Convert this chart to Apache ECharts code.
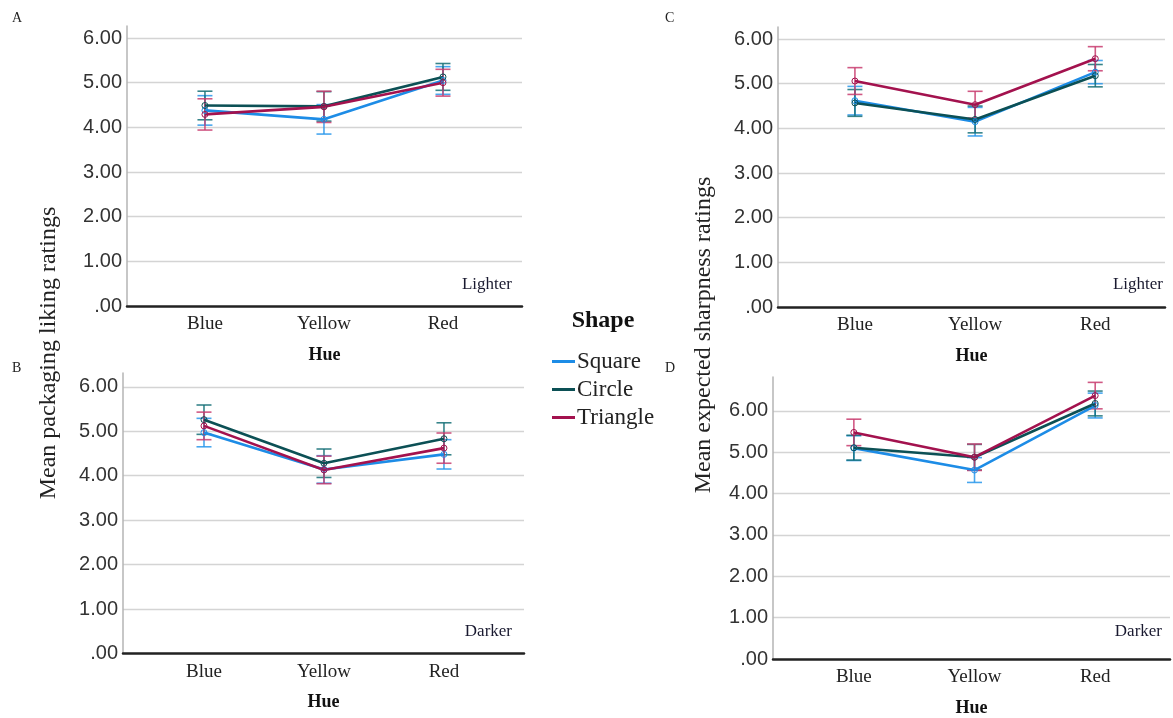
<!DOCTYPE html>
<html><head><meta charset="utf-8">
<script src="https://cdn.jsdelivr.net/npm/echarts@6/dist/echarts.min.js"></script>
<style>html,body{margin:0;padding:0;background:#fff}#c{width:1173px;height:718px}</style>
</head><body><div id="c"></div>
<script>
// ---- data ----
const hues = ['Blue', 'Yellow', 'Red'];
const shapes = ['Square', 'Circle', 'Triangle'];
const yTicks = [0, 1, 2, 3, 4, 5, 6];

// Panel A: Lighter, packaging liking
const aSquare = [4.38, 4.18, 5.05];   const aSquareErr = [0.33, 0.33, 0.31];
const aCircle = [4.49, 4.47, 5.13];   const aCircleErr = [0.32, 0.33, 0.30];
const aTriangle = [4.29, 4.46, 5.00]; const aTriangleErr = [0.35, 0.35, 0.30];
// Panel B: Darker, packaging liking
const bSquare = [4.97, 4.14, 4.48];   const bSquareErr = [0.32, 0.31, 0.33];
const bCircle = [5.26, 4.28, 4.83];   const bCircleErr = [0.33, 0.32, 0.36];
const bTriangle = [5.12, 4.13, 4.62]; const bTriangleErr = [0.31, 0.31, 0.34];
// Panel C: Lighter, expected sharpness
const cSquare = [4.62, 4.15, 5.26];   const cSquareErr = [0.32, 0.32, 0.26];
const cCircle = [4.57, 4.20, 5.18];   const cCircleErr = [0.30, 0.30, 0.25];
const cTriangle = [5.06, 4.53, 5.56]; const cTriangleErr = [0.30, 0.30, 0.27];
// Panel D: Darker, expected sharpness
const dSquare = [5.10, 4.57, 6.13];   const dSquareErr = [0.30, 0.30, 0.30];
const dCircle = [5.11, 4.88, 6.18];   const dCircleErr = [0.30, 0.31, 0.30];
const dTriangle = [5.48, 4.88, 6.37]; const dTriangleErr = [0.32, 0.32, 0.32];

// ---- layout / style ----
const colors = {Square: '#1d8ce6', Circle: '#0c5055', Triangle: '#a3124e'};
const barColors = {Square: 'rgba(40,150,235,0.85)', Circle: 'rgba(20,110,118,0.85)', Triangle: 'rgba(200,60,110,0.85)'};
const panels = [
  {grid: {left: 127, top: 26, width: 395, height: 280}, ymax: 6.27, xmin: -0.655, xmax: 2.664, note: 'Lighter',
   vals: [aSquare, aCircle, aTriangle], errs: [aSquareErr, aCircleErr, aTriangleErr]},
  {grid: {left: 123, top: 373, width: 401, height: 280.5}, ymax: 6.31, xmin: -0.675, xmax: 2.667, note: 'Darker',
   vals: [bSquare, bCircle, bTriangle], errs: [bSquareErr, bCircleErr, bTriangleErr]},
  {grid: {left: 778, top: 27, width: 387, height: 280}, ymax: 6.27, xmin: -0.64, xmax: 2.58, note: 'Lighter',
   vals: [cSquare, cCircle, cTriangle], errs: [cSquareErr, cCircleErr, cTriangleErr]},
  {grid: {left: 773, top: 377, width: 397, height: 282.5}, ymax: 6.82, xmin: -0.67, xmax: 2.62, note: 'Darker',
   vals: [dSquare, dCircle, dTriangle], errs: [dSquareErr, dCircleErr, dTriangleErr]}
];

const serif = '"Liberation Serif", "DejaVu Serif", serif';
const sans = '"Liberation Sans", Arial, sans-serif';

const grids = [], xAxes = [], yAxes = [], series = [];
panels.forEach((p, i) => {
  grids.push(Object.assign({containLabel: false}, p.grid));
  xAxes.push({
    type: 'value', gridIndex: i, min: p.xmin, max: p.xmax,
    axisLine: {show: true, onZero: false, lineStyle: {color: '#222', width: 2.5}},
    axisTick: {show: false},
    splitLine: {show: false},
    axisLabel: {customValues: [0, 1, 2], formatter: v => hues[Math.round(v)] || '',
      fontFamily: serif, fontSize: 19, color: '#222', margin: 9},
    name: 'Hue', nameLocation: 'middle', nameGap: 40,
    nameTextStyle: {fontFamily: serif, fontSize: 18, fontWeight: 'bold', color: '#111'}
  });
  yAxes.push({
    type: 'value', gridIndex: i, min: 0, max: p.ymax, interval: 1,
    axisLine: {show: true, onZero: false, lineStyle: {color: '#b5b5b5', width: 1.5}},
    axisTick: {show: false},
    splitLine: {show: true, showMinLine: false, showMaxLine: false, lineStyle: {color: '#d4d4d4', width: 1.3}},
    axisLabel: {showMaxLabel: false, formatter: v => v === 0 ? '.00' : v.toFixed(2),
      fontFamily: sans, fontSize: 20, color: '#333', margin: 5}
  });
  shapes.forEach((s, k) => {
    const vals = p.vals[k], errs = p.errs[k];
    series.push({
      type: 'custom', name: s, xAxisIndex: i, yAxisIndex: i, z: 2,
      data: vals.map((v, j) => [j, v - errs[j], v + errs[j]]),
      renderItem: (params, api) => {
        const x = api.value(0);
        const lo = api.coord([x, api.value(1)]);
        const hi = api.coord([x, api.value(2)]);
        const hw = 7.5;
        const st = {stroke: barColors[s], lineWidth: 1.6, fill: null};
        return {type: 'group', children: [
          {type: 'line', shape: {x1: lo[0], y1: lo[1], x2: hi[0], y2: hi[1]}, style: st},
          {type: 'line', shape: {x1: lo[0] - hw, y1: lo[1], x2: lo[0] + hw, y2: lo[1]}, style: st},
          {type: 'line', shape: {x1: hi[0] - hw, y1: hi[1], x2: hi[0] + hw, y2: hi[1]}, style: st}
        ]};
      },
      silent: true
    });
  });
  shapes.forEach((s, k) => {
    series.push({
      type: 'line', name: s, xAxisIndex: i, yAxisIndex: i, z: 3,
      data: p.vals[k].map((v, j) => [j, v]),
      color: colors[s],
      lineStyle: {width: 2.6, color: colors[s]},
      symbol: 'circle', symbolSize: 6,
      itemStyle: {color: 'rgba(255,255,255,0)', borderColor: colors[s], borderWidth: 1},
      animation: false
    });
  });
});

const graphics = [
  {type: 'text', left: 12, top: 11, style: {text: 'A', font: '14px ' + serif, fill: '#222'}},
  {type: 'text', left: 12, top: 361, style: {text: 'B', font: '14px ' + serif, fill: '#222'}},
  {type: 'text', left: 665, top: 11, style: {text: 'C', font: '14px ' + serif, fill: '#222'}},
  {type: 'text', left: 665, top: 361, style: {text: 'D', font: '14px ' + serif, fill: '#222'}},
  {type: 'text', x: 49, y: 353, rotation: Math.PI / 2,
   style: {text: 'Mean packaging liking ratings', font: '24px ' + serif, fill: '#222', align: 'center', verticalAlign: 'middle'}},
  {type: 'text', x: 704, y: 335, rotation: Math.PI / 2,
   style: {text: 'Mean expected sharpness ratings', font: '24px ' + serif, fill: '#222', align: 'center', verticalAlign: 'middle'}},
  {type: 'text', x: 603, y: 321, style: {text: 'Shape', font: 'bold 24px ' + serif, fill: '#111', align: 'center', verticalAlign: 'middle'}},
  {type: 'text', x: 512, y: 285, style: {text: panels[0].note, font: '17px ' + serif, fill: '#1a1a30', align: 'right', verticalAlign: 'middle'}},
  {type: 'text', x: 512, y: 632, style: {text: panels[1].note, font: '17px ' + serif, fill: '#1a1a30', align: 'right', verticalAlign: 'middle'}},
  {type: 'text', x: 1163, y: 285, style: {text: panels[2].note, font: '17px ' + serif, fill: '#1a1a30', align: 'right', verticalAlign: 'middle'}},
  {type: 'text', x: 1162, y: 632, style: {text: panels[3].note, font: '17px ' + serif, fill: '#1a1a30', align: 'right', verticalAlign: 'middle'}}
];

const chart = echarts.init(document.getElementById('c'), null, {renderer: 'canvas'});
chart.setOption({
  animation: false,
  backgroundColor: '#fff',
  grid: grids, xAxis: xAxes, yAxis: yAxes, series: series,
  legend: {
    orient: 'vertical', left: 547, top: 345, itemGap: 5,
    itemWidth: 23, itemHeight: 3, icon: 'rect',
    data: shapes.map(s => ({name: s, itemStyle: {color: colors[s]}})),
    textStyle: {fontFamily: serif, fontSize: 23, color: '#222', lineHeight: 23, padding: [0, 0, 0, -3]},
    selectedMode: false
  },
  graphic: graphics
});
</script></body></html>
